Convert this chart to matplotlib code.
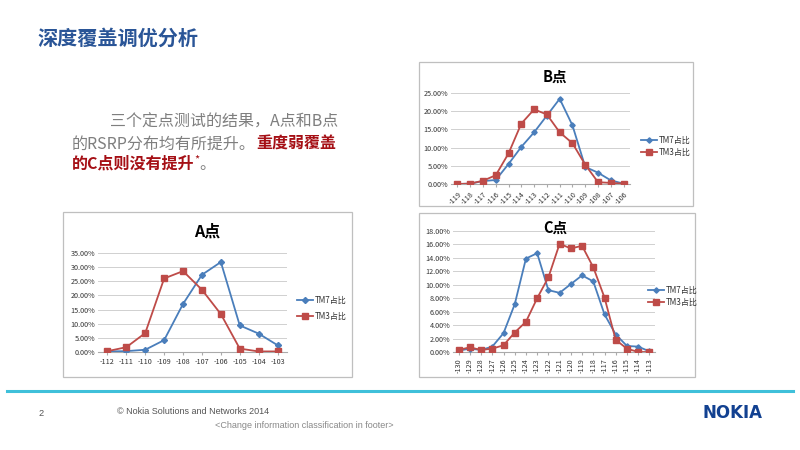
import matplotlib
matplotlib.use("Agg")
import matplotlib.pyplot as plt
from matplotlib.patches import Rectangle
from matplotlib.lines import Line2D
from matplotlib.ticker import FuncFormatter

plt.rcParams['font.family'] = ['Noto Sans CJK SC', 'DejaVu Sans']

# ---------------- data ----------------
a_x = [-112, -111, -110, -109, -108, -107, -106, -105, -104, -103]
a_tm7 = [0.2, 0.3, 0.8, 4.2, 17.0, 27.3, 31.8, 9.4, 6.5, 2.4]
a_tm3 = [0.3, 1.7, 6.7, 26.0, 28.6, 22.0, 13.4, 1.2, 0.2, 0.2]

b_x = [-119, -118, -117, -116, -115, -114, -113, -112, -111, -110, -109, -108, -107, -106]
b_tm7 = [0.0, 0.1, 0.8, 1.1, 5.5, 10.2, 14.2, 18.8, 23.4, 16.1, 4.7, 3.1, 1.0, 0.1]
b_tm3 = [0.0, 0.1, 0.9, 2.4, 8.4, 16.6, 20.5, 19.1, 14.2, 11.2, 5.3, 0.5, 0.3, 0.1]

c_x = [-130, -129, -128, -127, -126, -125, -124, -123, -122, -121, -120, -119, -118, -117, -116, -115, -114, -113]
c_tm7 = [0.2, 0.5, 0.3, 0.8, 2.8, 7.1, 13.9, 14.7, 9.2, 8.8, 10.1, 11.4, 10.5, 5.6, 2.6, 0.9, 0.8, 0.1]
c_tm3 = [0.3, 0.7, 0.3, 0.5, 1.0, 2.9, 4.5, 8.0, 11.1, 16.1, 15.4, 15.8, 12.6, 8.1, 1.8, 0.5, 0.0, 0.0]

series_names = ['TM7占比', 'TM3占比']

BLUE = '#4A7EBB'
RED = '#BE4B48'

W, H = 800, 450
fig = plt.figure(figsize=(8, 4.5), dpi=100)

def rect(l, t, r, b):
    return [l / W, 1 - b / H, (r - l) / W, (b - t) / H]

def fx(x):
    return x / W

def fy(y):
    return 1 - y / H

def frame(l, t, r, b):
    fig.patches.append(Rectangle((l / W, 1 - b / H), (r - l) / W, (b - t) / H,
                                 transform=fig.transFigure, fill=False,
                                 edgecolor='#BFBFBF', linewidth=0.9))

pct = FuncFormatter(lambda v, p: f'{v:.2f}%')

def chart(pos, xs, tm7, tm3, ymax, ystep, title, tpos, legpos, rot, ms=3.2, tfs=10.5):
    ax = fig.add_axes(rect(*pos))
    idx = list(range(len(xs)))
    ax.plot(idx, tm7, color=BLUE, marker='D', markersize=ms * 0.85, linewidth=1.3, zorder=3)
    ax.plot(idx, tm3, color=RED, marker='s', markersize=ms * 1.15, linewidth=1.3, zorder=3)
    ax.set_xlim(-0.5, len(xs) - 0.5)
    ax.set_ylim(0, ymax)
    ax.set_yticks([ystep * i for i in range(int(round(ymax / ystep)) + 1)])
    ax.yaxis.set_major_formatter(pct)
    ax.set_xticks(idx)
    ax.set_xticklabels([str(v) for v in xs], rotation=rot,
                       ha='right' if rot == 45 else 'center',
                       rotation_mode='anchor' if rot == 45 else 'default')
    ax.tick_params(axis='both', labelsize=5.2, length=0, colors='#333333', pad=2)
    ax.tick_params(axis='x', length=2.5, color='#AAAAAA')
    ax.grid(axis='y', color='#D0D0D0', linewidth=0.7)
    ax.set_axisbelow(True)
    for s in ['top', 'right', 'left']:
        ax.spines[s].set_visible(False)
    ax.spines['bottom'].set_color('#AAAAAA')
    fig.text(fx(tpos[0]), fy(tpos[1]), title, ha='center', va='center',
             fontsize=tfs, fontweight='bold', color='#000000')
    lx, ly1, ly2 = legpos
    for yy, col, mk, name, m in [(ly1, BLUE, 'D', series_names[0], ms * 0.85),
                                 (ly2, RED, 's', series_names[1], ms * 1.15)]:
        fig.add_artist(Line2D([fx(lx), fx(lx + 16)], [fy(yy), fy(yy)],
                              transform=fig.transFigure, color=col, linewidth=1.3))
        fig.add_artist(Line2D([fx(lx + 8)], [fy(yy)], transform=fig.transFigure,
                              color=col, marker=mk, markersize=m, linestyle='none'))
        fig.text(fx(lx + 18), fy(yy), name, ha='left', va='center',
                 fontsize=5.8, color='#333333')
    return ax

# Chart frames
frame(63, 212, 352, 377)
frame(419, 62, 693, 206)
frame(419, 213, 695, 377)

# A
chart((98, 253, 287, 352), a_x, a_tm7, a_tm3, 35, 5, 'A点', (207, 232),
      (297, 300, 316), 0, ms=3.6, tfs=11.5)
# B
chart((451, 93, 630, 184), b_x, b_tm7, b_tm3, 25, 5, 'B点', (555, 77),
      (641, 140, 152), 45, ms=3.2)
# C
chart((453, 231, 655, 352), c_x, c_tm7, c_tm3, 18, 2, 'C点', (555, 228),
      (648, 290, 302), 90, ms=3.2)

# Title
fig.text(fx(37), fy(38), '深度覆盖调优分析', ha='left', va='center',
         fontsize=14.5, fontweight='bold', color='#2A5597')

# Body text with mixed colours
renderer = fig.canvas.get_renderer()
GRAY = '#7F7F7F'
DRED = '#A50F15'
FS = 11.5

def run(x, y, parts):
    for txt, col, bold, fs, dy in parts:
        t = fig.text(x, y + dy / H, txt, ha='left', va='baseline', fontsize=fs,
                     color=col, fontweight='bold' if bold else 'normal')
        bb = t.get_window_extent(renderer=renderer)
        x += bb.width / W

run(fx(110), fy(127), [('三个定点测试的结果，A点和B点', GRAY, False, FS, 0)])
run(fx(72), fy(149), [('的RSRP分布均有所提升。', GRAY, False, FS, 0),
                     ('重度弱覆盖', DRED, True, FS, 0)])
run(fx(72), fy(169), [('的C点则没有提升', DRED, True, FS, 0),
                     ('*', DRED, False, 8, 6),
                     ('。', GRAY, False, FS, 0)])

# Separator line
fig.add_artist(Line2D([fx(7), fx(793)], [fy(391), fy(391)], transform=fig.transFigure,
                      color='#3FC0DA', linewidth=2.2))

# Footer
FOOT = ['Liberation Sans', 'DejaVu Sans']
fig.text(fx(38), fy(413), '2', fontsize=6.6, color='#555555', ha='left', va='center',
         family=FOOT)
fig.text(fx(117), fy(412), '© Nokia Solutions and Networks 2014', fontsize=6.5,
         color='#555555', ha='left', va='center', family=FOOT)
fig.text(fx(215), fy(425), '<Change information classification in footer>', fontsize=6.5,
         color='#888888', ha='left', va='center', family=FOOT)
fig.text(fx(762), fy(413), 'NOKIA', fontsize=12, fontweight='bold', color='#124191',
         ha='right', va='center', family='DejaVu Sans')

fig.savefig('out.png', dpi=100)
